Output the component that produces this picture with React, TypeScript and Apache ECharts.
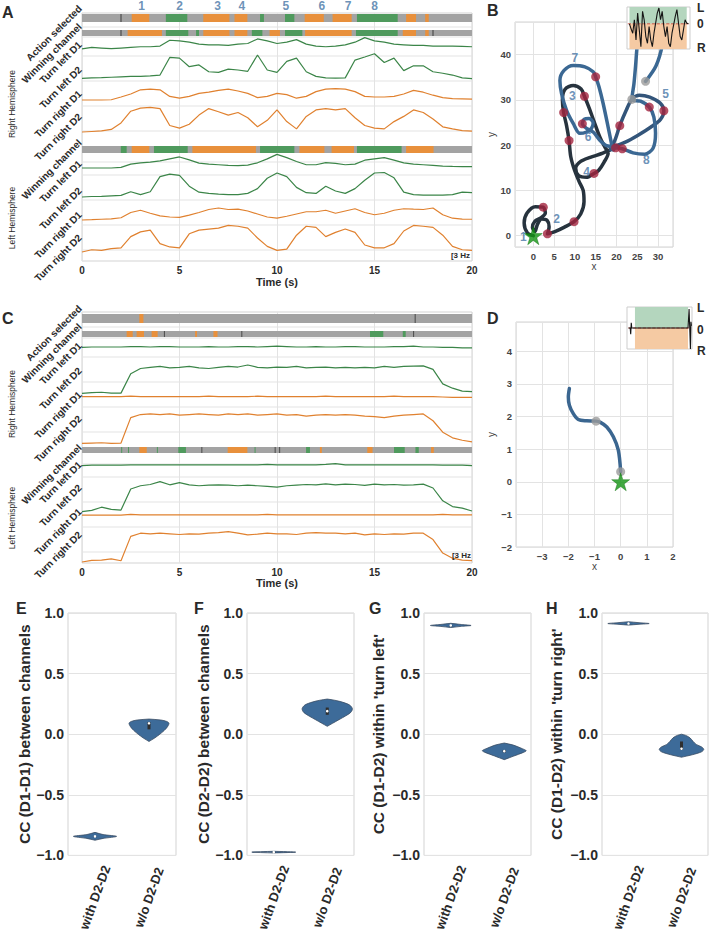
import React, { useEffect, useRef } from 'react';
import * as echarts from 'echarts';

const FONT = '"Liberation Sans", Arial, Helvetica, sans-serif';
const INK = '#2a2a2a';
const GRID_LINE = '#e3e3e3';
const FRAME = '#d3d3d3';
const TRACE_GREEN = '#3b8548';
const TRACE_ORANGE = '#e0812f';
const NUM_BLUE = '#4676a6';
const FILLS = ['#a3a3a3', '#4f9a5d', '#e8903c', '#4a4a4a', '#b4d6be', '#f5caa3', '#ffffff'];
const SEG_CODE: Record<string, number> = { L: 1, R: 2, K: 3 };

const TIME_STEP = 0.5;
const T_MAX = 20;

// ---------- Panel A: normalised activity, one sample every 0.5 s ----------
const A_R_TL_D1 = [0.08,0.2,0.15,0.1,0.15,0.2,0.25,0.25,0.3,0.75,0.7,0.6,0.45,0.4,0.4,0.35,0.45,0.5,0.85,0.7,0.5,0.6,0.8,0.45,0.3,0.25,0.3,0.4,0.6,0.95,0.7,0.6,0.45,0.4,0.35,0.35,0.3,0.3,0.3,0.28,0.25];
const A_R_TL_D2 = [0.03,0.05,0.06,0.08,0.1,0.12,0.12,0.14,0.18,0.98,0.95,0.56,0.64,0.33,0.3,0.45,0.41,0.35,1.09,0.41,0.3,0.8,0.95,0.33,0.12,0.05,0.04,0.05,0.86,1.0,1.15,0.75,0.95,0.38,0.6,0.6,0.33,0.26,0.18,0.05,0.02];
const A_R_TR_D1 = [0,0,0,0.02,0.25,0.5,0.85,0.9,0.85,0.3,0.15,0.3,0.55,0.65,0.8,0.9,0.75,0.55,0.2,0.3,0.55,0.45,0.15,0.3,0.7,0.9,0.95,0.9,0.7,0.3,0.25,0.25,0.3,0.5,0.8,0.65,0.4,0.2,0.12,0.1,0.08];
const A_R_TR_D2 = [0,0.02,0.04,0.1,0.35,0.8,0.92,0.95,0.9,0.25,0.15,0.3,0.65,0.9,0.78,0.65,0.75,0.55,0.2,0.45,0.85,0.4,0.12,0.6,0.85,0.9,0.85,0.9,0.55,0.25,0.15,0.12,0.4,0.6,0.85,0.75,0.5,0.2,0.12,0.05,0.03];
const A_L_TL_D1 = [0,0,0,0,0.05,0.3,0.4,0.45,0.55,0.7,0.85,0.62,0.38,0.3,0.25,0.2,0.18,0.22,0.4,0.7,1.05,0.8,0.5,0.25,0.25,0.42,0.35,0.25,0.3,0.6,0.7,0.8,0.6,0.4,0.3,0.25,0.2,0.15,0.12,0.1,0.1];
const A_L_TL_D2 = [0,0.02,0.03,0.05,0.07,0.22,0.1,0.22,0.85,0.95,0.9,0.45,0.2,0.15,0.12,0.1,0.1,0.15,0.35,0.78,1.0,0.85,0.4,0.18,0.15,0.45,0.25,0.15,0.35,0.7,1.0,1.02,0.8,0.2,0.1,0.08,0.08,0.08,0.1,0.2,0.18];
const A_L_TR_D1 = [0,0.02,0.05,0.08,0.15,0.5,0.65,0.45,0.27,0.2,0.18,0.33,0.5,0.7,0.8,0.7,0.72,0.6,0.4,0.2,0.12,0.25,0.4,0.55,0.55,0.65,0.45,0.6,0.75,0.5,0.35,0.45,0.65,0.75,0.72,0.7,0.8,0.35,0.12,0.06,0.05];
const A_L_TR_D2 = [0,0.08,0.06,0.12,0.15,0.55,0.72,0.78,0.3,0.18,0.15,0.65,0.78,0.82,0.85,0.95,0.92,0.85,0.5,0.2,0.06,0.1,0.6,0.92,0.88,0.55,0.7,0.82,0.7,0.25,0.15,0.15,0.3,0.75,0.95,0.92,0.88,0.6,0.2,0.08,0.06];

// ---------- Panel C ----------
const C_R_TL_D1 = [0.45,0.5,0.5,0.5,0.5,0.55,0.55,0.5,0.55,0.55,0.5,0.5,0.5,0.55,0.5,0.5,0.55,0.55,0.5,0.55,0.6,0.55,0.5,0.5,0.55,0.5,0.5,0.55,0.55,0.5,0.5,0.5,0.55,0.55,0.6,0.5,0.5,0.45,0.45,0.4,0.4];
const C_R_TL_D2 = [0.02,0.05,0.06,0.03,0.03,0.7,0.88,0.92,0.95,0.9,0.92,0.95,0.9,0.88,0.92,0.95,0.93,1.0,0.92,0.9,0.93,0.92,0.95,0.9,0.92,0.93,0.9,0.92,0.9,0.92,0.9,0.95,0.92,0.95,0.96,0.97,0.85,0.35,0.2,0.1,0.08];
const C_R_TR_D1 = [0.3,0.3,0.3,0.3,0.3,0.35,0.3,0.3,0.3,0.3,0.3,0.3,0.3,0.35,0.3,0.3,0.3,0.3,0.35,0.3,0.3,0.3,0.3,0.3,0.3,0.35,0.3,0.3,0.3,0.3,0.3,0.3,0.35,0.3,0.3,0.3,0.3,0.25,0.2,0.2,0.2];
const C_R_TR_D2 = [0.02,0.03,0.04,0.02,0.03,0.85,0.95,0.97,0.95,0.97,0.93,0.95,0.97,0.95,0.93,0.97,0.95,0.97,0.93,0.95,0.97,0.93,0.95,0.9,0.93,0.95,0.93,0.95,0.93,0.9,0.88,0.85,0.9,0.93,0.95,0.97,0.75,0.38,0.2,0.12,0.07];
const C_L_TL_D1 = [0.3,0.35,0.35,0.35,0.35,0.4,0.4,0.4,0.4,0.4,0.4,0.4,0.4,0.4,0.4,0.4,0.4,0.4,0.4,0.45,0.4,0.4,0.4,0.4,0.4,0.45,0.55,0.4,0.4,0.4,0.4,0.4,0.4,0.4,0.4,0.4,0.4,0.35,0.35,0.35,0.3];
const C_L_TL_D2 = [0.01,0.05,0.15,0.08,0.06,0.72,0.82,0.86,0.95,0.85,0.92,0.85,0.82,0.84,0.85,0.84,0.82,0.84,0.82,0.8,0.78,0.82,0.84,0.86,0.85,0.88,0.85,0.87,0.86,0.83,0.87,0.85,0.86,0.84,0.85,0.87,0.75,0.35,0.17,0.12,0.03];
const C_L_TR_D1 = [0.35,0.35,0.35,0.35,0.35,0.45,0.4,0.4,0.4,0.4,0.4,0.4,0.4,0.4,0.4,0.4,0.4,0.4,0.4,0.45,0.4,0.4,0.4,0.4,0.4,0.4,0.4,0.4,0.4,0.4,0.4,0.4,0.4,0.4,0.4,0.4,0.4,0.45,0.4,0.4,0.4];
const C_L_TR_D2 = [0,0.05,0.06,0.1,0.04,0.8,0.9,0.88,0.9,0.88,0.86,0.88,0.87,0.9,0.92,0.95,0.9,0.85,0.87,0.9,0.88,0.88,0.86,0.9,0.92,0.9,0.9,0.88,0.9,0.85,0.88,0.86,0.88,0.87,0.9,0.9,0.7,0.28,0.12,0.06,0.04];

// ---------- Bars: [start s, end s, 'L' turn left | 'R' turn right | 'K' tick] ----------
const A_ACTION: [number, number, string][] = [[1.97,2.03,'K'],[2.55,3.45,'R'],[4.3,5.4,'L'],[6.22,7.56,'R'],[7.82,8.48,'R'],[9.13,9.33,'L'],[10.41,10.89,'L'],[11.42,12.4,'R'],[12.85,13.83,'R'],[14.1,16.19,'L'],[16.62,17.13,'R'],[17.6,17.78,'R']];
const A_WIN_R: [number, number, string][] = [[1.97,2.03,'K'],[2.34,4.1,'R'],[4.3,5.45,'L'],[5.85,6.0,'L'],[6.22,7.56,'R'],[7.82,8.48,'R'],[8.71,9.25,'L'],[9.62,10.15,'R'],[10.41,11.3,'L'],[11.44,13.83,'R'],[14.05,16.19,'L'],[16.45,17.13,'R'],[17.6,17.78,'R'],[17.97,18.03,'K']];
const A_WIN_L: [number, number, string][] = [[1.99,2.29,'L'],[2.55,3.45,'R'],[3.69,5.42,'L'],[5.66,8.92,'R'],[9.13,10.89,'L'],[11.15,12.43,'R'],[12.8,13.95,'R'],[14.1,16.39,'L'],[16.62,18.03,'R']];
const C_ACTION: [number, number, string][] = [[2.94,3.15,'R'],[17.06,17.11,'K']];
const C_WIN_R: [number, number, string][] = [[2.29,2.6,'R'],[2.8,3.18,'R'],[3.57,3.88,'R'],[4.2,4.25,'K'],[5.8,5.9,'R'],[6.74,6.95,'R'],[8.17,8.22,'K'],[14.77,15.45,'L'],[16.45,16.6,'L'],[16.98,17.03,'K']];
const C_WIN_L: [number, number, string][] = [[2.01,2.06,'L'],[2.36,2.41,'L'],[2.94,3.32,'R'],[3.84,3.89,'L'],[4.94,5.33,'L'],[6.12,6.17,'K'],[7.47,8.48,'R'],[8.85,8.9,'L'],[9.88,9.93,'K'],[10.11,10.16,'K'],[11.49,11.69,'L'],[12.2,12.3,'R'],[14.63,14.9,'R'],[16.0,16.55,'L'],[17.1,17.27,'L'],[17.9,18.04,'R']];

const EVENT_TIMES = [3.05, 5.0, 6.95, 8.2, 10.45, 12.3, 13.65, 15.0];
const EVENT_LABELS = ['1', '2', '3', '4', '5', '6', '7', '8'];

const ROW_LABELS = ['Action selected', 'Winning channel', 'Turn left D1', 'Turn left D2', 'Turn right D1', 'Turn right D2', 'Winning channel', 'Turn left D1', 'Turn left D2', 'Turn right D1', 'Turn right D2'];

// ---------- Panel B: trajectory (x, y) ----------
const B_PATH = [
  [0,0],[-1.4,0.6],[-2.2,2.8],[-1.5,5.0],[0.5,6.4],[2.4,6.3],[2.9,5.0],[1.9,4.0],[0.4,3.2],[-0.2,1.8],[0.4,0.9],[1.0,2.5],[2.0,3.7],[3.3,3.4],[3.8,2.0],[3.4,0.4],[5.2,0.9],[7.5,1.9],[9.8,3.1],
  [11.4,4.8],[12.2,7.5],[12.0,10.0],[11.0,12.0],[9.9,14.5],[9.0,17.5],[8.6,21.0],[8.0,24.3],[7.3,27.2],[7.0,30.0],[7.6,32.3],[9.6,33.2],[11.5,32.4],[12.3,30.8],[13.4,28.3],[14.7,25.0],[16.0,21.8],[17.2,19.6],[18.0,18.2],
  [17.0,16.2],[15.7,14.4],[14.6,13.75],[12.8,12.9],[10.9,13.3],[10.2,14.9],[11.4,16.4],[13.7,17.3],[16.3,18.1],[18.6,19.0],
  [19.8,21.5],[20.8,24.3],[22.4,27.8],[23.7,30.1],[25.5,31.0],[28.0,30.6],[30.5,29.3],[31.4,27.6],[30.6,25.7],[28.3,24.0],[25.2,22.2],[22.0,20.6],[19.5,19.7],
  [17.6,19.9],[16.0,21.1],[14.4,22.9],[12.8,23.7],[11.8,24.7],[12.2,25.7],[13.4,25.9],[14.4,24.9],[14.0,23.7],[12.8,22.9],[11.2,22.6],[9.6,24.8],[8.0,27.7],[6.8,31.4],[6.4,34.3],[7.4,36.5],[9.6,37.6],[12.4,37.3],[14.4,36.2],[15.0,35.1],[15.8,32.9],[16.8,29.2],[18.0,24.0],[18.8,20.4],[19.2,18.9],
  [19.8,19.4],[21.4,19.2],[24.0,18.3],[26.8,18.0],[28.8,19.3],[29.4,22.6],[29.0,26.2],[27.9,28.4],[25.8,29.7],[23.7,30.1],[24.2,33.5],[24.6,37.5],[25.0,42.0],[25.8,46.5],[28.5,48.5],[31.5,46.5],[31.0,42.0],[29.5,37.5],[27.0,34.1],[25.0,31.6]
];
const B_SEGMENTS: [number, number, string][] = [[0, 47, '#27333e'], [47, 60, '#33557a'], [60, 104, '#3b6893']];
const B_RED_DOTS = [[2.4,6.3],[3.4,0.4],[9.8,3.1],[14.6,13.75],[8.6,21.0],[7.3,27.2],[11.8,24.7],[12.3,30.8],[15.0,35.1],[20.8,24.3],[19.8,19.4],[21.4,19.2],[27.9,28.4],[31.4,27.6]];
const B_GREY_DOTS = [[23.7,30.1],[27.0,34.1]];
const B_LABELS: [string, number, number][] = [['1',-2.4,-0.4],['2',5.6,3.6],['3',9.4,30.9],['4',12.8,14.1],['5',31.8,31.2],['6',13.2,21.8],['7',10.0,39.3],['8',27.2,16.7]];
const B_INSET = [0,-0.3,-0.56,0.24,-0.96,0.64,-0.36,-1.36,0.74,0.24,-0.76,-1.16,-0.16,-0.96,-1.36,-0.56,0.04,0.64,0.94,0.24,0.74,-0.16,-0.76,-0.16,-1.16,-1.36,-0.56,-0.06,0.44,0.84,0.04,-0.76,-0.96,-0.36,0.24,0.04,0];

// ---------- Panel D ----------
const D_PATH = [[0.0,0.31],[-0.09,0.97],[-0.28,1.38],[-0.53,1.68],[-0.79,1.83],[-0.94,1.86],[-1.3,1.87],[-1.62,1.91],[-1.81,2.09],[-1.96,2.35],[-2.0,2.6],[-1.96,2.86]];
const D_GREY_DOTS = [[0.0,0.31],[-0.94,1.86]];
const D_INSET_T = [-2.4,-1.8,-1.6,-1.4,-1.2,0,5,10,15,20,20.4,20.7,20.9,21.1,21.3];
const D_INSET_V = [0,0,-0.3,0.25,0,0,0,0,0,0,0.9,-0.2,-1.0,0.3,0.1];

// ---------- Panels E-H: violins, profile [value, half width as share of band] ----------
const VIOLIN_CATEGORIES = ['with D2-D2', 'w/o D2-D2'];
const E_WITH = [[-0.875,0],[-0.86,0.15],[-0.843,0.4],[-0.828,0.15],[-0.81,0]];
const E_WO = [[-0.06,0],[-0.03,0.11],[0.0,0.2],[0.03,0.28],[0.06,0.34],[0.09,0.37],[0.105,0.33],[0.117,0.22],[0.125,0]];
const F_WITH = [[-0.98,0],[-0.973,0.41],[-0.966,0]];
const F_WO = [[0.065,0],[0.09,0.1],[0.12,0.22],[0.15,0.34],[0.18,0.44],[0.21,0.47],[0.24,0.42],[0.265,0.28],[0.28,0.14],[0.29,0]];
const G_WITH = [[0.88,0],[0.89,0.2],[0.897,0.38],[0.905,0.2],[0.915,0]];
const G_WO = [[-0.21,0],[-0.18,0.18],[-0.15,0.36],[-0.136,0.41],[-0.12,0.34],[-0.09,0.17],[-0.073,0]];
const H_WITH = [[0.9,0],[0.907,0.2],[0.913,0.39],[0.92,0.2],[0.928,0]];
const H_WO = [[-0.19,0],[-0.17,0.2],[-0.145,0.38],[-0.125,0.42],[-0.105,0.38],[-0.085,0.28],[-0.06,0.22],[-0.03,0.16],[-0.01,0.08],[0.0,0]];
const E_BOX = [[-0.845,-0.843,-0.841],[0.04,0.09,0.1]];
const F_BOX = [[-0.974,-0.973,-0.972],[0.16,0.19,0.22]];
const G_BOX = [[0.896,0.897,0.898],[-0.15,-0.14,-0.13]];
const H_BOX = [[0.912,0.913,0.914],[-0.13,-0.12,-0.06]];

// ---------- layout (pixels) ----------
const A_TRACE_ROWS = [[37,13],[66,22],[87,12],[119,26],[155,13],[184,24],[207,15],[239,28]];
const C_TRACE_ROWS = [[39,8],[82,29],[87,8],[132,31],[156,8],[200,32],[206,8],[250,32]];
const A_BAR_ROWS = [[1,9],[17,23],[133,140]];
const C_BAR_ROWS = [[2,11],[19,25],[135,141]];
const A_HLINES = [14,24,43,68,93,118,149,162,187,212,237];
const C_HLINES = [15,26,45,70,95,120,152,165,190,215,240];
const A_LABEL_Y = [7,25,43,68,92,115,141,162,189,213,236];
const C_LABEL_Y = [307,325,344,369,393,417,446,463,486,510,533];

const minus = (s: string) => s.replace('-', '\u2212');
const multipleOf = (step: number) => (v: number) => {
  const r = v / step;
  return Math.abs(r - Math.round(r)) < 1e-6 ? minus(String(Math.round(v))) : '';
};

const rectItem = (_p: any, api: any) => {
  const a = api.coord([api.value(0), api.value(2)]);
  const b = api.coord([api.value(1), api.value(3)]);
  const stroke = api.value(5) > 0;
  return {
    type: 'rect',
    shape: { x: Math.min(a[0], b[0]), y: Math.min(a[1], b[1]), width: Math.max(1, Math.abs(b[0] - a[0])), height: Math.abs(b[1] - a[1]) },
    style: { fill: FILLS[api.value(4)], stroke: stroke ? '#cdcdcd' : null, lineWidth: 1 },
  };
};
const hLineItem = (_p: any, api: any) => {
  const a = api.coord([api.value(0), api.value(2)]);
  const b = api.coord([api.value(1), api.value(2)]);
  return { type: 'line', shape: { x1: a[0], y1: a[1], x2: b[0], y2: b[1] }, style: { stroke: GRID_LINE, lineWidth: 1 } };
};
const violinItem = (profiles: number[][][], boxes: number[][]) => (params: any, api: any) => {
  const i = params.dataIndex;
  const cat = api.value(0);
  const band = api.size([1, 0])[0];
  const prof = profiles[i];
  const right = prof.map(([y, w]) => { const p = api.coord([cat, y]); return [p[0] + w * band, p[1]]; });
  const left = prof.slice().reverse().map(([y, w]) => { const p = api.coord([cat, y]); return [p[0] - w * band, p[1]]; });
  const [q1, med, q3] = boxes[i];
  const c1 = api.coord([cat, q1]);
  const cm = api.coord([cat, med]);
  const c3 = api.coord([cat, q3]);
  return {
    type: 'group',
    children: [
      { type: 'polygon', shape: { points: right.concat(left), smooth: 0.3 }, style: { fill: '#3d6b99', stroke: '#3a4d63', lineWidth: 0.8 } },
      { type: 'rect', shape: { x: cm[0] - 1.5, y: c3[1], width: 3, height: Math.max(1, c1[1] - c3[1]) }, style: { fill: '#2e2e2e' } },
      { type: 'circle', shape: { cx: cm[0], cy: cm[1], r: 1.3 }, style: { fill: '#ffffff' } },
    ],
  };
};

function buildOption() {
  const grid: any[] = [];
  const xAxis: any[] = [];
  const yAxis: any[] = [];
  const series: any[] = [];
  const graphic: any[] = [];
  const txt = (text: string, x: number, y: number, o: any = {}) => graphic.push({
    type: 'text', x, y, rotation: o.rotation || 0, silent: true, z: 200,
    style: {
      text, fill: o.color || INK, fontSize: o.size || 10, fontWeight: o.weight || 'bold', fontFamily: FONT,
      textAlign: o.align || 'left', textVerticalAlign: o.valign || 'top', align: o.align || 'left', verticalAlign: o.valign || 'top',
    },
  });

  const tracePanel = (gi: number, top: number, height: number, traces: number[][], rows: number[][], barRows: number[][], bars: [number, number, string][][], hlines: number[], nameGap: number) => {
    grid.push({ left: 82, top, width: 390, height, show: true, borderColor: FRAME, borderWidth: 1, backgroundColor: '#fff' });
    xAxis.push({
      gridIndex: gi, type: 'value', min: 0, max: T_MAX, interval: 5,
      axisLine: { show: false }, axisTick: { show: false },
      axisLabel: { color: INK, fontSize: 10, fontWeight: 'bold', fontFamily: FONT, margin: 4 },
      splitLine: { show: true, lineStyle: { color: GRID_LINE, width: 1 } },
      name: 'Time (s)', nameLocation: 'middle', nameGap,
      nameTextStyle: { color: INK, fontSize: 11, fontWeight: 'bold', fontFamily: FONT },
    });
    yAxis.push({ gridIndex: gi, type: 'value', min: 0, max: height, inverse: true, show: false });
    series.push({ type: 'custom', xAxisIndex: gi, yAxisIndex: gi, silent: true, z: 1, renderItem: hLineItem, data: hlines.map((y) => [0, T_MAX, y]) });
    const rects: number[][] = [];
    barRows.forEach(([t, b], r) => {
      rects.push([0, T_MAX, t, b, 0]);
      bars[r].forEach(([s, e, k]) => rects.push([s, e, t, b, SEG_CODE[k]]));
    });
    series.push({ type: 'custom', xAxisIndex: gi, yAxisIndex: gi, silent: true, z: 2, renderItem: rectItem, data: rects });
    traces.forEach((vals, k) => {
      const [base, amp] = rows[k];
      series.push({
        type: 'line', xAxisIndex: gi, yAxisIndex: gi, silent: true, z: 3, showSymbol: false, symbol: 'none',
        data: vals.map((v, i) => [i * TIME_STEP, base - v * amp]),
        lineStyle: { color: k % 4 < 2 ? TRACE_GREEN : TRACE_ORANGE, width: 1.2 },
      });
    });
  };

  // 0: A, 1: C
  tracePanel(0, 13, 248, [A_R_TL_D1, A_R_TL_D2, A_R_TR_D1, A_R_TR_D2, A_L_TL_D1, A_L_TL_D2, A_L_TR_D1, A_L_TR_D2], A_TRACE_ROWS, A_BAR_ROWS, [A_ACTION, A_WIN_R, A_WIN_L], A_HLINES, 15);
  tracePanel(1, 312, 251, [C_R_TL_D1, C_R_TL_D2, C_R_TR_D1, C_R_TR_D2, C_L_TL_D1, C_L_TL_D2, C_L_TR_D1, C_L_TR_D2], C_TRACE_ROWS, C_BAR_ROWS, [C_ACTION, C_WIN_R, C_WIN_L], C_HLINES, 14);
  series.push({
    type: 'scatter', xAxisIndex: 0, yAxisIndex: 0, clip: false, silent: true, z: 5, symbol: 'circle', symbolSize: 1,
    itemStyle: { color: 'rgba(0,0,0,0)' },
    data: EVENT_TIMES.map((t, i) => ({ name: EVENT_LABELS[i], value: [t, -7] })),
    label: { show: true, position: 'inside', formatter: '{b}', color: NUM_BLUE, fontSize: 12, fontWeight: 'bold', fontFamily: FONT },
  });

  // 2: B main
  grid.push({ left: 515, top: 22, width: 158, height: 225, show: true, borderColor: FRAME, borderWidth: 1, backgroundColor: '#fff' });
  xAxis.push({
    gridIndex: 2, type: 'value', min: -4.4, max: 33.6, splitNumber: 8, minInterval: 5, maxInterval: 5,
    axisLine: { show: false }, axisTick: { show: false },
    axisLabel: { formatter: multipleOf(5), color: '#444', fontSize: 9.5, fontWeight: 'bold', fontFamily: FONT, margin: 4 },
    splitLine: { lineStyle: { color: GRID_LINE } },
    name: 'x', nameLocation: 'middle', nameGap: 11, nameTextStyle: { color: '#444', fontSize: 10, fontFamily: FONT },
  });
  yAxis.push({
    gridIndex: 2, type: 'value', min: -2.5, max: 47.2, splitNumber: 5, minInterval: 10, maxInterval: 10,
    axisLine: { show: false }, axisTick: { show: false },
    axisLabel: { formatter: multipleOf(10), color: '#444', fontSize: 9.5, fontWeight: 'bold', fontFamily: FONT, margin: 4 },
    splitLine: { lineStyle: { color: GRID_LINE } },
    name: 'y', nameLocation: 'middle', nameGap: 19, nameTextStyle: { color: '#444', fontSize: 10, fontFamily: FONT },
  });
  B_SEGMENTS.forEach(([s, e, c]) => series.push({
    type: 'line', xAxisIndex: 2, yAxisIndex: 2, silent: true, z: 2, showSymbol: false, symbol: 'none', smooth: 0.3,
    data: B_PATH.slice(s, e + 1), lineStyle: { color: c, width: 3.5, cap: 'round', join: 'round' },
  }));
  series.push({ type: 'scatter', xAxisIndex: 2, yAxisIndex: 2, silent: true, z: 4, symbolSize: 9, itemStyle: { color: '#a3243e' }, data: B_RED_DOTS });
  series.push({ type: 'scatter', xAxisIndex: 2, yAxisIndex: 2, silent: true, z: 4, symbolSize: 9, itemStyle: { color: '#9b9b9b' }, data: B_GREY_DOTS });
  const STAR = 'path://M50,0 L61.8,35.1 L98.9,35.1 L68.9,56.8 L80.3,91.9 L50,70.2 L19.7,91.9 L31.1,56.8 L1.1,35.1 L38.2,35.1 Z';
  series.push({ type: 'scatter', xAxisIndex: 2, yAxisIndex: 2, silent: true, z: 5, symbol: STAR, symbolSize: 18, itemStyle: { color: '#139413', borderColor: '#0b6e0b', borderWidth: 0.5 }, data: [[0, 0]] });
  series.push({
    type: 'scatter', xAxisIndex: 2, yAxisIndex: 2, silent: true, z: 6, symbol: 'circle', symbolSize: 1, clip: false,
    itemStyle: { color: 'rgba(0,0,0,0)' },
    data: B_LABELS.map(([t, x, y]) => ({ name: t, value: [x, y] })),
    label: { show: true, position: 'inside', formatter: '{b}', color: NUM_BLUE, fontSize: 12, fontWeight: 'bold', fontFamily: FONT },
  });

  // 3: B inset
  grid.push({ left: 627, top: 7, width: 63, height: 42 });
  xAxis.push({ gridIndex: 3, type: 'value', min: -1.5, max: 37, show: false });
  yAxis.push({ gridIndex: 3, type: 'value', min: -1.5, max: 1, show: false });
  series.push({ type: 'custom', xAxisIndex: 3, yAxisIndex: 3, silent: true, z: 100, renderItem: rectItem, data: [[-1.5, 37, -1.5, 1, 6, 1]] });
  series.push({ type: 'custom', xAxisIndex: 3, yAxisIndex: 3, silent: true, z: 101, renderItem: rectItem, data: [[0, 35, 0, 1, 4], [0, 35, -1.5, 0, 5]] });
  series.push({ type: 'line', xAxisIndex: 3, yAxisIndex: 3, silent: true, z: 102, showSymbol: false, symbol: 'none', data: [[-1, 0], [36.5, 0]], lineStyle: { color: '#c0392b', width: 0.8, type: 'dashed' } });
  series.push({ type: 'line', xAxisIndex: 3, yAxisIndex: 3, silent: true, z: 103, showSymbol: false, symbol: 'none', data: B_INSET.map((v, i) => [i, v]), lineStyle: { color: '#151515', width: 1.1 } });

  // 4: D main
  grid.push({ left: 516, top: 322, width: 157, height: 225, show: true, borderColor: FRAME, borderWidth: 1, backgroundColor: '#fff' });
  xAxis.push({
    gridIndex: 4, type: 'value', min: -4, max: 2, interval: 1,
    axisLine: { show: false }, axisTick: { show: false },
    axisLabel: { formatter: (v: number) => (v < -3.5 ? '' : multipleOf(1)(v)), color: '#444', fontSize: 9.5, fontWeight: 'bold', fontFamily: FONT, margin: 4 },
    splitLine: { lineStyle: { color: GRID_LINE } },
    name: 'x', nameLocation: 'middle', nameGap: 12, nameTextStyle: { color: '#444', fontSize: 10, fontFamily: FONT },
  });
  yAxis.push({
    gridIndex: 4, type: 'value', min: -2, max: 4.9, interval: 1,
    axisLine: { show: false }, axisTick: { show: false },
    axisLabel: { formatter: multipleOf(1), color: '#444', fontSize: 9.5, fontWeight: 'bold', fontFamily: FONT, margin: 4 },
    splitLine: { lineStyle: { color: GRID_LINE } },
    name: 'y', nameLocation: 'middle', nameGap: 20, nameTextStyle: { color: '#444', fontSize: 10, fontFamily: FONT },
  });
  series.push({ type: 'line', xAxisIndex: 4, yAxisIndex: 4, silent: true, z: 2, showSymbol: false, symbol: 'none', smooth: 0.3, data: D_PATH, lineStyle: { color: '#3b6690', width: 3.5, cap: 'round' } });
  series.push({ type: 'scatter', xAxisIndex: 4, yAxisIndex: 4, silent: true, z: 4, symbolSize: 9, itemStyle: { color: '#9b9b9b' }, data: D_GREY_DOTS });
  series.push({ type: 'scatter', xAxisIndex: 4, yAxisIndex: 4, silent: true, z: 5, symbol: STAR, symbolSize: 18, itemStyle: { color: '#139413', borderColor: '#0b6e0b', borderWidth: 0.5 }, data: [[0, 0]] });

  // 5: D inset
  grid.push({ left: 627, top: 307, width: 65, height: 42 });
  xAxis.push({ gridIndex: 5, type: 'value', min: -3, max: 21.5, show: false });
  yAxis.push({ gridIndex: 5, type: 'value', min: -1, max: 1, show: false });
  series.push({ type: 'custom', xAxisIndex: 5, yAxisIndex: 5, silent: true, z: 100, renderItem: rectItem, data: [[-3, 21.5, -1, 1, 6, 1]] });
  series.push({ type: 'custom', xAxisIndex: 5, yAxisIndex: 5, silent: true, z: 101, renderItem: rectItem, data: [[0, 20, 0, 1, 4], [0, 20, -1, 0, 5]] });
  series.push({ type: 'line', xAxisIndex: 5, yAxisIndex: 5, silent: true, z: 102, showSymbol: false, symbol: 'none', data: [[-2.5, 0], [21, 0]], lineStyle: { color: '#c0392b', width: 0.8, type: 'dashed' } });
  series.push({ type: 'line', xAxisIndex: 5, yAxisIndex: 5, silent: true, z: 103, showSymbol: false, symbol: 'none', data: D_INSET_T.map((t, i) => [t, D_INSET_V[i]]), lineStyle: { color: '#151515', width: 1.1 } });

  // 6-9: violins
  const violin = (gi: number, left: number, width: number, title: string, profiles: number[][][], boxes: number[][], nameGap: number) => {
    grid.push({ left, top: 613, width, height: 245, show: true, borderColor: FRAME, borderWidth: 1, backgroundColor: '#fff' });
    xAxis.push({
      gridIndex: gi, type: 'category', data: VIOLIN_CATEGORIES,
      axisLine: { show: false }, axisTick: { show: false }, splitLine: { show: false },
      axisLabel: { interval: 0, rotate: 70, align: 'center', verticalAlign: 'middle', margin: 42, color: INK, fontSize: 13, fontWeight: 'bold', fontFamily: FONT },
    });
    yAxis.push({
      gridIndex: gi, type: 'value', min: -1, max: 1, interval: 0.5,
      axisLine: { show: false }, axisTick: { show: false },
      axisLabel: { formatter: (v: number) => minus(v.toFixed(1)), color: INK, fontSize: 14, fontWeight: 'bold', fontFamily: FONT, margin: 4 },
      splitLine: { lineStyle: { color: GRID_LINE } },
      name: title, nameLocation: 'middle', nameGap,
      nameTextStyle: { color: INK, fontSize: 15.5, fontWeight: 'bold', fontFamily: FONT },
    });
    series.push({ type: 'custom', xAxisIndex: gi, yAxisIndex: gi, silent: true, z: 3, renderItem: violinItem(profiles, boxes), data: [[0, 0], [1, 0]] });
  };
  violin(6, 68, 108, 'CC (D1-D1) between channels', [E_WITH, E_WO], E_BOX, 34);
  violin(7, 247, 107, 'CC (D2-D2) between channels', [F_WITH, F_WO], F_BOX, 36);
  violin(8, 424, 107, "CC (D1-D2) within 'turn left'", [G_WITH, G_WO], G_BOX, 38);
  violin(9, 602, 106, "CC (D1-D2) within 'turn right'", [H_WITH, H_WO], H_BOX, 38);

  // texts
  [['A', 2, 4], ['B', 487, 2], ['C', 2, 310], ['D', 487, 310], ['E', 16, 600], ['F', 194, 600], ['G', 369, 600], ['H', 546, 600]].forEach(([t, x, y]) =>
    txt(t as string, x as number, y as number, { size: 16 }));
  ROW_LABELS.forEach((t, i) => {
    txt(t, 80, A_LABEL_Y[i], { rotation: Math.PI / 4, align: 'right', valign: 'middle', size: 10 });
    txt(t, 80, C_LABEL_Y[i], { rotation: Math.PI / 4, align: 'right', valign: 'middle', size: 10 });
  });
  txt('Right Hemisphere', 12, 104, { rotation: Math.PI / 2, align: 'center', valign: 'middle', size: 8.5, weight: 'normal' });
  txt('Left Hemisphere', 12, 218, { rotation: Math.PI / 2, align: 'center', valign: 'middle', size: 8.5, weight: 'normal' });
  txt('Right Hemisphere', 12, 404, { rotation: Math.PI / 2, align: 'center', valign: 'middle', size: 8.5, weight: 'normal' });
  txt('Left Hemisphere', 12, 518, { rotation: Math.PI / 2, align: 'center', valign: 'middle', size: 8.5, weight: 'normal' });
  txt('[3 Hz', 470, 255, { align: 'right', valign: 'middle', size: 8 });
  txt('[3 Hz', 471, 555, { align: 'right', valign: 'middle', size: 8 });
  [['L', 8], ['0', 24], ['R', 48]].forEach(([t, y]) => txt(t as string, 697, y as number, { valign: 'middle', size: 12 }));
  [['L', 308], ['0', 330], ['R', 351]].forEach(([t, y]) => txt(t as string, 697, y as number, { valign: 'middle', size: 12 }));

  return {
    animation: false,
    backgroundColor: '#ffffff',
    textStyle: { fontFamily: FONT },
    grid, xAxis, yAxis, series, graphic,
  };
}

export default function App() {
  const ref = useRef<HTMLDivElement>(null);
  useEffect(() => {
    const chart = echarts.init(ref.current as HTMLDivElement, null, { renderer: 'svg' });
    chart.setOption(buildOption() as any);
    return () => chart.dispose();
  }, []);
  return <div ref={ref} style={{ position: 'absolute', left: 0, top: 0, width: 709, height: 934, background: '#fff' }} />;
}
